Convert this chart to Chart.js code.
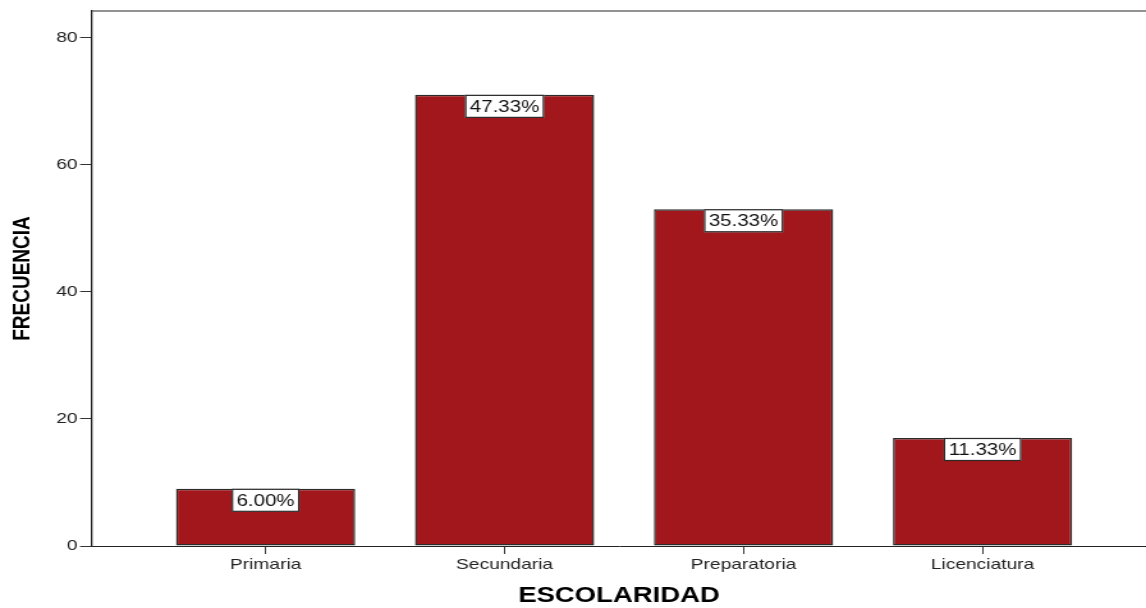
<!DOCTYPE html>
<html>
<head>
<meta charset="utf-8">
<script src="https://cdn.jsdelivr.net/npm/chart.js@4.4.1/dist/chart.umd.min.js"></script>
<style>
  html, body { margin: 0; padding: 0; background: #fff; overflow: hidden; }
  /* the chart is drawn on a narrower canvas and widened, giving the wide lettering */
  #wrap { position: absolute; left: 0; top: 0; width: 896px; height: 608px;
          transform: scaleX(1.279018); transform-origin: 0 0; }
</style>
</head>
<body>
<div id="wrap"><canvas id="c"></canvas></div>
<script>
const categories = ['Primaria', 'Secundaria', 'Preparatoria', 'Licenciatura'];
const frequencies = [9, 71, 53, 17];
const yTicks = [0, 20, 40, 60, 80];

const FONT = '"Liberation Sans", Arial, sans-serif';
const total = frequencies.reduce((a, b) => a + b, 0);

// white boxes with the share of each bar, hung from the top of the bar
const valueBoxes = {
  id: 'valueBoxes',
  afterDatasetsDraw(chart) {
    const { ctx } = chart;
    const meta = chart.getDatasetMeta(0);
    ctx.save();
    ctx.font = '16px ' + FONT;
    ctx.textAlign = 'center';
    ctx.textBaseline = 'middle';
    meta.data.forEach((bar, i) => {
      const text = (frequencies[i] / total * 100).toFixed(2) + '%';
      const w = ctx.measureText(text).width + 7.5;
      const h = 23;
      const x = bar.x - w / 2;
      const y = bar.y;
      ctx.fillStyle = '#ffffff';
      ctx.fillRect(x, y, w, h);
      ctx.strokeStyle = '#2a2a2a';
      ctx.lineWidth = 1.2;
      ctx.strokeRect(x + 0.5, y + 0.5, w - 1, h - 1);
      ctx.fillStyle = '#111111';
      ctx.fillText(text, bar.x, y + h / 2 + 1);
    });
    ctx.restore();
  }
};

// top edge of the plot frame
const frameTop = {
  id: 'frameTop',
  afterDraw(chart) {
    const { ctx, chartArea } = chart;
    ctx.save();
    ctx.strokeStyle = '#6e6e6e';
    ctx.lineWidth = 1.5;
    ctx.beginPath();
    ctx.moveTo(chartArea.left, chartArea.top);
    ctx.lineTo(chartArea.right, chartArea.top);
    ctx.stroke();
    ctx.restore();
  }
};

new Chart(document.getElementById('c'), {
  type: 'bar',
  data: {
    datasets: [{
      data: frequencies.map((v, i) => ({ x: i, y: v })),
      backgroundColor: '#a1171b',
      borderColor: '#2b2b2b',
      borderWidth: 1.5,
      borderSkipped: false,
      categoryPercentage: 1,
      barPercentage: 0.75
    }]
  },
  options: {
    responsive: true,
    maintainAspectRatio: false,
    animation: false,
    layout: { padding: { top: 10, right: 0, bottom: 0, left: 0 } },
    plugins: { legend: { display: false }, tooltip: { enabled: false } },
    scales: {
      x: {
        type: 'linear',
        min: -0.726,
        max: 3.684,
        offset: false,
        grid: { display: true, drawOnChartArea: false, drawTicks: true, tickLength: 8,
                color: '#333333', offset: false },
        border: { display: true, color: '#222222', width: 1 },
        afterBuildTicks(scale) { scale.ticks = categories.map((_, i) => ({ value: i })); },
        afterFit(scale) { scale.height = 62; },
        ticks: {
          includeBounds: false,
          autoSkip: false,
          maxRotation: 0,
          padding: 2,
          color: '#222222',
          font: { family: FONT, size: 15 },
          callback: (v) => categories[v] ?? ''
        },
        title: {
          display: true,
          text: 'ESCOLARIDAD',
          color: '#000000',
          font: { family: FONT, size: 21.5, weight: 'bold', lineHeight: 1.1 },
          padding: { top: 0, bottom: 0 }
        }
      },
      y: {
        min: 0,
        max: 84.2,
        grid: { display: true, drawOnChartArea: false, drawTicks: true, tickLength: 9.4,
                color: '#333333' },
        border: { display: true, color: '#222222', width: 1.3 },
        afterBuildTicks(scale) { scale.ticks = yTicks.map(v => ({ value: v })); },
        afterFit(scale) { scale.width = 72; },
        ticks: {
          includeBounds: false,
          padding: 2,
          color: '#222222',
          font: { family: FONT, size: 15 }
        },
        title: {
          display: true,
          text: 'FRECUENCIA',
          color: '#000000',
          font: { family: FONT, size: 19, weight: 'bold', lineHeight: 1.2 },
          padding: { top: 6.5, bottom: 0 }
        }
      }
    }
  },
  plugins: [valueBoxes, frameTop]
});
</script>
</body>
</html>
